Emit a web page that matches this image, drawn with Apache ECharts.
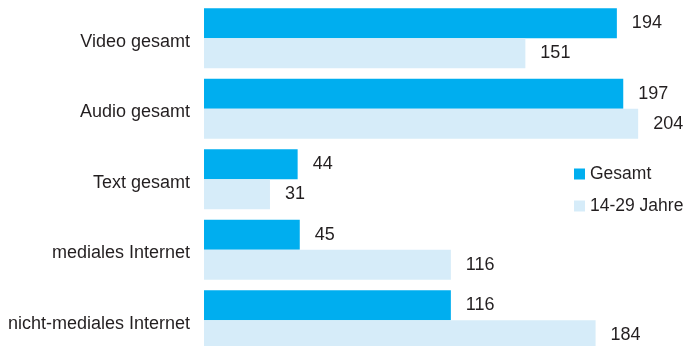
<!DOCTYPE html>
<html>
<head>
<meta charset="utf-8">
<script src="https://cdn.jsdelivr.net/npm/echarts@6/dist/echarts.min.js"></script>
<style>html,body{margin:0;padding:0;background:#fff}#c{width:686px;height:346px}</style>
</head>
<body>
<div id="c"></div>
<script>
const categories = ['Video gesamt', 'Audio gesamt', 'Text gesamt', 'mediales Internet', 'nicht-mediales Internet'];
const gesamt = [194, 197, 44, 45, 116];
const jung = [151, 204, 31, 116, 184];
const seriesNames = ['Gesamt', '14-29 Jahre'];

const FONT = "'Liberation Sans', Arial, sans-serif";
const TXT = '#231f20';
const chart = echarts.init(document.getElementById('c'), null, {renderer: 'canvas'});
const lbl = {show: true, position: 'right', distance: 15, color: TXT, fontFamily: FONT, fontSize: 18};
chart.setOption({
  animation: false,
  grid: {left: 204, top: 3, width: 468.2, height: 352.5, containLabel: false, outerBoundsMode: 'none'},
  legend: {
    orient: 'vertical', left: 574, top: 164, padding: 0, itemWidth: 11, itemHeight: 11, itemGap: 12,
    icon: 'rect',
    textStyle: {fontFamily: FONT, fontSize: 17.5, color: TXT, lineHeight: 20},
    data: seriesNames
  },
  xAxis: {type: 'value', min: 0, max: 220, show: false},
  yAxis: {
    type: 'category', data: categories, inverse: true,
    axisLine: {show: false}, axisTick: {show: false}, splitLine: {show: false},
    axisLabel: {margin: 14, color: TXT, fontFamily: FONT, fontSize: 18, verticalAlign: 'top', lineHeight: 7}
  },
  series: [
    {name: seriesNames[0], type: 'bar', data: gesamt, barWidth: 30, barGap: '0%', itemStyle: {color: '#00aeef'}, label: lbl},
    {name: seriesNames[1], type: 'bar', data: jung, barWidth: 30, barGap: '0%', itemStyle: {color: '#d6ecf9'}, label: lbl}
  ]
});
</script>
</body>
</html>
